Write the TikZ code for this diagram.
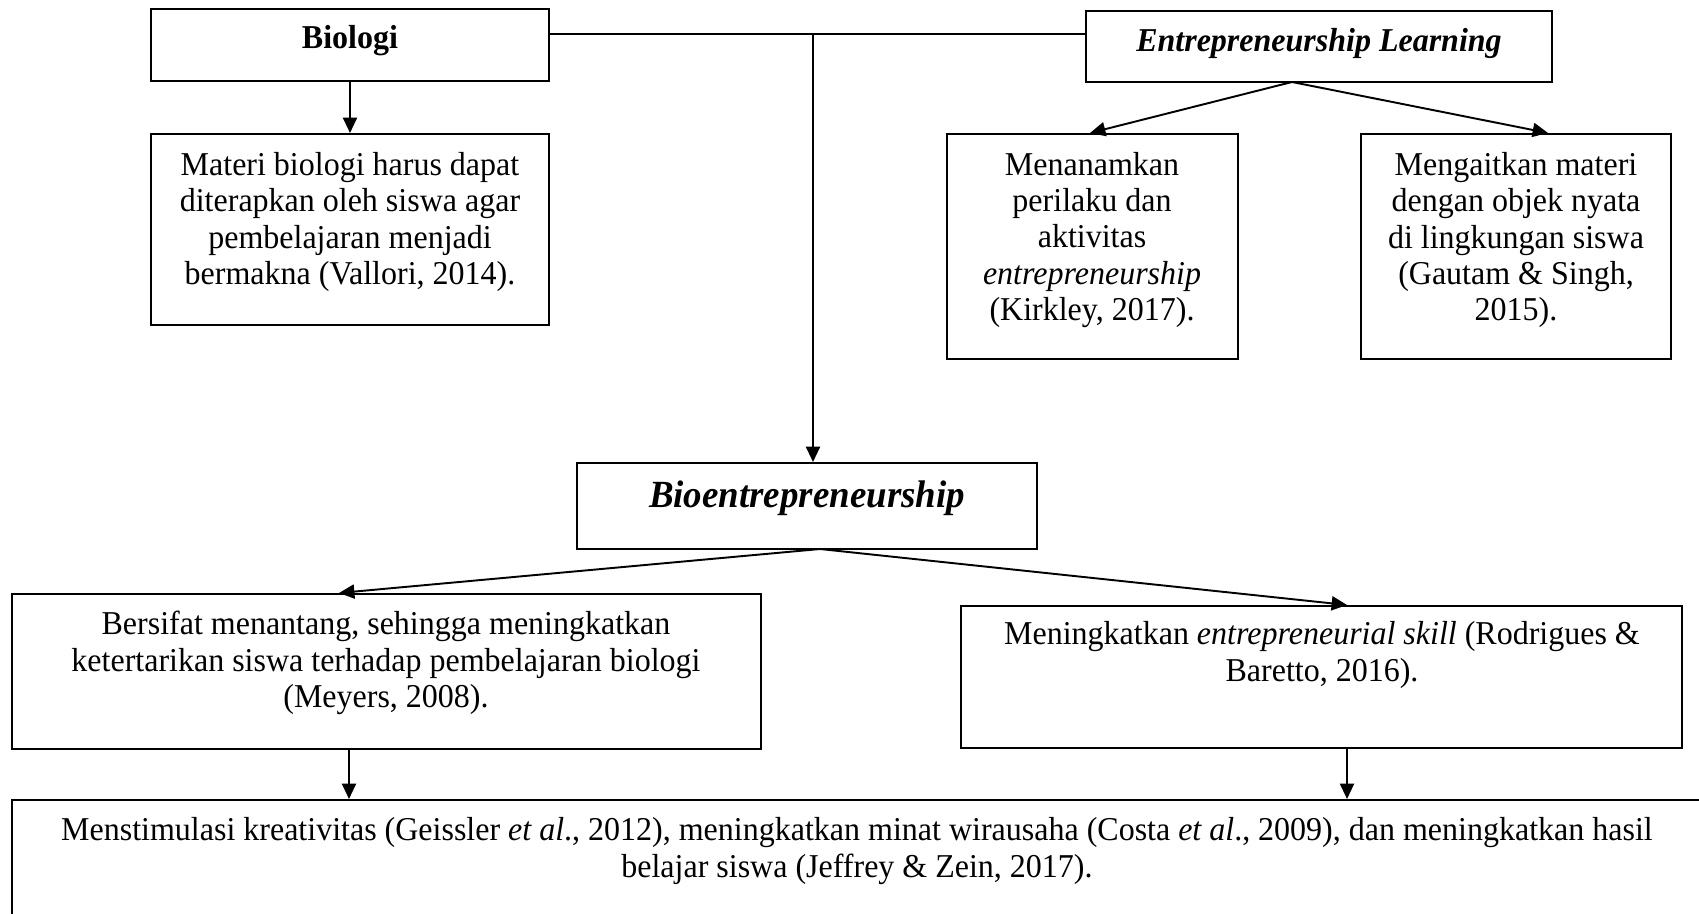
\documentclass[tikz,border=0pt]{standalone}
\usepackage{fontspec}
\setmainfont{Liberation Serif}[FakeStretch=0.96]
\usetikzlibrary{arrows.meta,fit}
\begin{document}
\begin{tikzpicture}[x=0.39pt,y=-0.39pt,
  box/.style={draw,line width=0.8pt,inner sep=0pt},
  txt/.style={align=center,font=\fontsize{13}{14.2}\selectfont,inner sep=0pt},
  conn/.style={line width=0.75pt},
  arr/.style={line width=0.75pt,-{Triangle[length=6pt,width=5.5pt]}}]
\useasboundingbox (0,0) rectangle (1699,913);
\clip (0,0) rectangle (1699,913);
% boxes
\node[box,fit={(151,9) (549,81)}] (bio) {};
\node[box,fit={(1086,11) (1552,82)}] (el) {};
\node[box,fit={(151,134) (549,325)}] (materi) {};
\node[box,fit={(947,134) (1238,359)}] (menan) {};
\node[box,fit={(1361,134) (1671,359)}] (mengai) {};
\node[box,fit={(577,463) (1037,549)}] (bioent) {};
\node[box,fit={(12,594) (761,749)}] (bersif) {};
\node[box,fit={(961,606) (1682,748)}] (mening) {};
\node[box,fit={(12,800) (1712,980)}] (hasil) {};
% texts
\node[txt] (biot) at (350,41) {\textbf{Biologi}};
\node[txt] (elt) at (1319,43) {\textbf{\textit{Entrepreneurship Learning}}};
\node[txt] (materit) at (350,222) {Materi biologi harus dapat\\diterapkan oleh siswa agar\\pembelajaran menjadi\\bermakna (Vallori, 2014).};
\node[txt] (menant) at (1092,240) {Menanamkan\\perilaku dan\\aktivitas\\\textit{entrepreneurship}\\(Kirkley, 2017).};
\node[txt] (mengait) at (1516,240) {Mengaitkan materi\\dengan objek nyata\\di lingkungan siswa\\(Gautam \& Singh,\\2015).};
\node[txt,font=\fontsize{15}{17}\selectfont] (bioentt) at (807,498) {\textbf{\textit{Bioentrepreneurship}}};
\node[txt] (bersift) at (386,663) {Bersifat menantang, sehingga meningkatkan\\ketertarikan siswa terhadap pembelajaran biologi\\(Meyers, 2008).};
\node[txt] (meningt) at (1322,655) {Meningkatkan \textit{entrepreneurial skill} (Rodrigues \&\\Baretto, 2016).};
\node[txt] (hasilt) at (857,851) {Menstimulasi kreativitas (Geissler \textit{et al}., 2012), meningkatkan minat wirausaha (Costa \textit{et al}., 2009), dan meningkatkan hasil\\belajar siswa (Jeffrey \& Zein, 2017).};
% connectors
\coordinate (j) at (813,34);
\draw[conn] (bio.east |- j) -- (el.west |- j);
\draw[arr] (j) -- (j |- bioent.north);
\draw[arr] (bio.south) -- (materi.north);
\coordinate (elb) at (1292,82);
\coordinate (ml) at (1090,0);
\coordinate (mr) at (1548,0);
\draw[arr] (elb) -- (menan.north -| ml);
\draw[arr] (elb) -- (mengai.north -| mr);
\coordinate (bb) at (820,549);
\coordinate (bl) at (339,0);
\coordinate (br) at (1347,0);
\coordinate (cl) at (349,0);
\draw[arr] (bb) -- (bersif.north -| bl);
\draw[arr] (bb) -- (mening.north -| br);
\draw[arr] (bersif.south -| cl) -- (hasil.north -| cl);
\draw[arr] (mening.south -| br) -- (hasil.north -| br);
\end{tikzpicture}
\end{document}
